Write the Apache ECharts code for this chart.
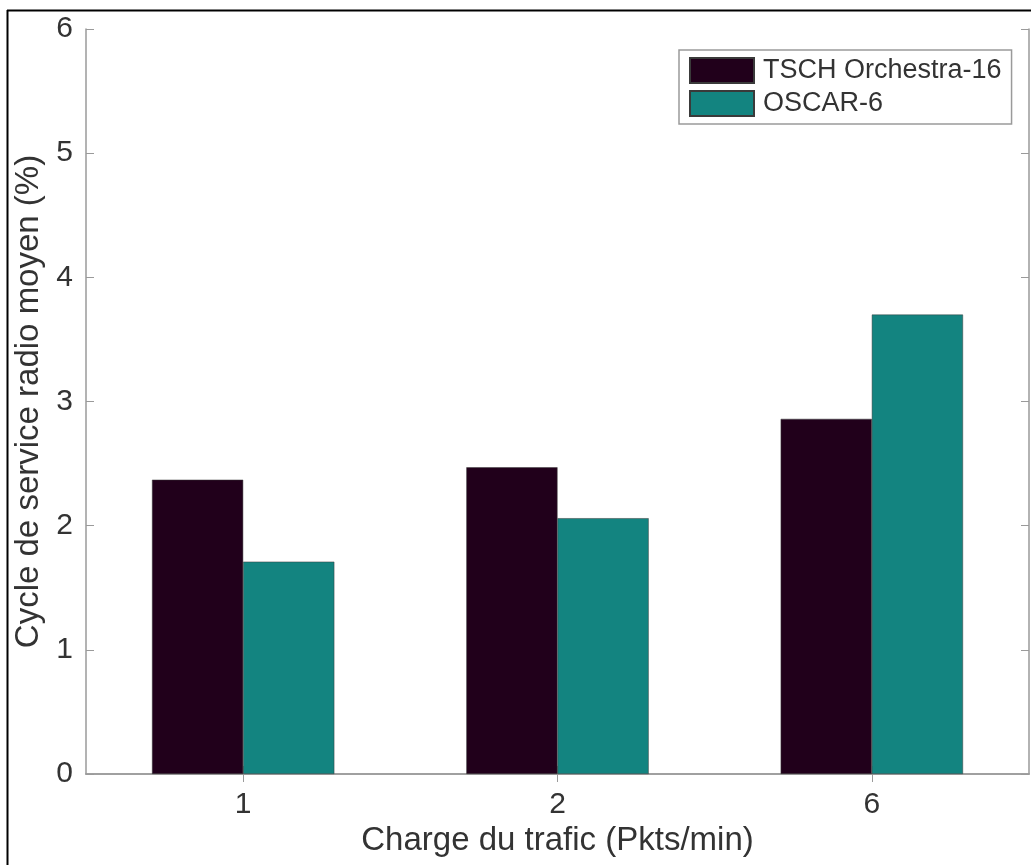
<!DOCTYPE html>
<html>
<head>
<meta charset="utf-8">
<script src="https://cdn.jsdelivr.net/npm/echarts@6/dist/echarts.min.js"></script>
<style>html,body{margin:0;padding:0;background:#fff;}#c{width:1031px;height:865px;}</style>
</head>
<body>
<div id="c"></div>
<script>
var categories = ['1', '2', '6'];
var seriesNames = ['TSCH Orchestra-16', 'OSCAR-6'];
var orchestraValues = [2.37, 2.47, 2.86];
var oscarValues = [1.71, 2.06, 3.70];
var yTicks = [0, 1, 2, 3, 4, 5, 6];

var FONT = '"Liberation Sans", Arial, sans-serif';
var AX = '#9a9a9a';
var TXT = '#333333';
var chart = echarts.init(document.getElementById('c'));
chart.setOption({
  backgroundColor: '#ffffff',
  animation: false,
  textStyle: {fontFamily: FONT},
  grid: {left: 86, top: 29, right: 2, bottom: 91},
  legend: {
    orient: 'vertical', left: 679, top: 50,
    padding: [7, 10, 7, 10], itemGap: 6,
    itemWidth: 64, itemHeight: 25,
    borderColor: '#9a9a9a', borderWidth: 1.5, backgroundColor: '#fff',
    textStyle: {fontSize: 27, color: TXT, fontFamily: FONT, padding: [0, 2, 0, 4]},
    icon: 'rect',
    data: seriesNames
  },
  xAxis: [{
    type: 'category', data: categories, boundaryGap: true,
    name: 'Charge du trafic (Pkts/min)', nameLocation: 'middle', nameGap: 50,
    nameTextStyle: {fontSize: 33, color: TXT, fontFamily: FONT},
    axisLine: {lineStyle: {color: AX, width: 1.5}},
    axisTick: {show: true, inside: true, length: 8, alignWithLabel: true, lineStyle: {color: AX}},
    axisLabel: {fontSize: 30, color: TXT, margin: 16, fontFamily: FONT},
    splitLine: {show: false}
  }, {
    type: 'category', data: categories, position: 'top', boundaryGap: true,
    axisLine: {show: true, lineStyle: {color: AX, width: 1.5}},
    axisTick: {show: true, inside: true, length: 8, alignWithLabel: true, lineStyle: {color: AX}},
    axisLabel: {show: false}, splitLine: {show: false}
  }],
  yAxis: [{
    type: 'value', min: yTicks[0], max: yTicks[yTicks.length - 1], interval: 1,
    name: 'Cycle de service radio moyen (%)', nameLocation: 'middle', nameGap: 38,
    nameTextStyle: {fontSize: 33, color: TXT, fontFamily: FONT},
    axisLine: {show: true, lineStyle: {color: AX, width: 1.5}},
    axisTick: {show: true, inside: true, length: 8, lineStyle: {color: AX}},
    axisLabel: {fontSize: 30, color: TXT, margin: 13, fontFamily: FONT},
    splitLine: {show: false}
  }, {
    type: 'value', min: yTicks[0], max: yTicks[yTicks.length - 1], interval: 1, position: 'right',
    axisLine: {show: true, lineStyle: {color: AX, width: 1.5}},
    axisTick: {show: true, inside: true, length: 8, lineStyle: {color: AX}},
    axisLabel: {show: false}, splitLine: {show: false}
  }],
  series: [{
    name: seriesNames[0], type: 'bar', data: orchestraValues,
    barGap: '0%', barCategoryGap: '42%',
    itemStyle: {color: '#21001b', borderColor: '#3a3a3a', borderWidth: 0.5}
  }, {
    name: seriesNames[1], type: 'bar', data: oscarValues,
    itemStyle: {color: '#138480', borderColor: '#3a3a3a', borderWidth: 0.5}
  }],
  graphic: [
    {type: 'line', shape: {x1: 7.5, y1: 10, x2: 7.5, y2: 865}, style: {stroke: '#000', lineWidth: 2}},
    {type: 'line', shape: {x1: 7, y1: 10.5, x2: 1031, y2: 10.5}, style: {stroke: '#000', lineWidth: 2}}
  ]
});
</script>
</body>
</html>
